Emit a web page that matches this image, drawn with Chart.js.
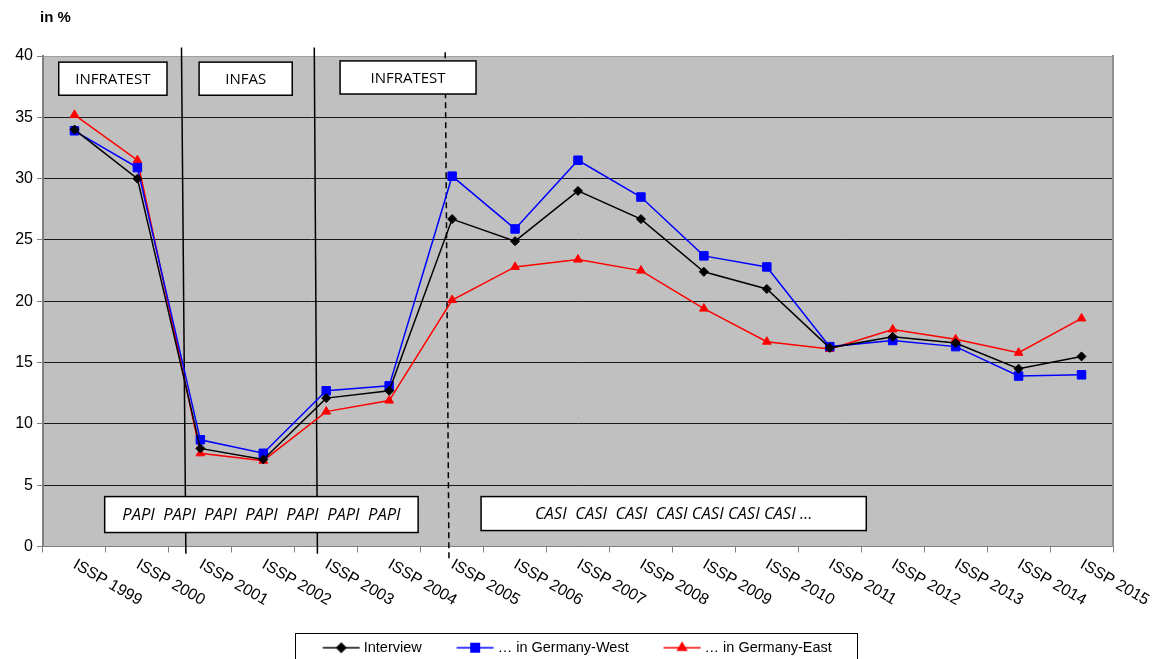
<!DOCTYPE html>
<html>
<head>
<meta charset="utf-8">
<script src="https://cdn.jsdelivr.net/npm/chart.js@4.4.1/dist/chart.umd.min.js"></script>
<style>
  html, body { margin: 0; padding: 0; background: #fff; }
  #wrap { width: 1165px; height: 659px; }
</style>
</head>
<body>
<div id="wrap"><canvas id="chart-line"></canvas></div>
<script>
var years = ["ISSP 1999", "ISSP 2000", "ISSP 2001", "ISSP 2002", "ISSP 2003", "ISSP 2004",
             "ISSP 2005", "ISSP 2006", "ISSP 2007", "ISSP 2008", "ISSP 2009", "ISSP 2010",
             "ISSP 2011", "ISSP 2012", "ISSP 2013", "ISSP 2014", "ISSP 2015"];
var interview   = [34.0, 30.0, 8.0, 7.1, 12.1, 12.7, 26.7, 24.9, 29.0, 26.7, 22.4, 21.0, 16.2, 17.1, 16.6, 14.5, 15.5];
var germanyWest = [33.9, 30.9, 8.7, 7.6, 12.7, 13.1, 30.2, 25.9, 31.5, 28.5, 23.7, 22.8, 16.3, 16.8, 16.3, 13.9, 14.0];
var germanyEast = [35.2, 31.5, 7.6, 7.0, 11.0, 11.9, 20.1, 22.8, 23.4, 22.5, 19.4, 16.7, 16.1, 17.7, 16.9, 15.8, 18.6];
var seriesNames = ["Interview", "\u2026 in Germany-West", "\u2026 in Germany-East"];
var institutes = ["INFRATEST", "INFAS", "INFRATEST"];
var modes = ["PAPI  PAPI  PAPI  PAPI  PAPI  PAPI  PAPI", "CASI  CASI  CASI  CASI CASI CASI CASI \u2026"];

var sans = "'Liberation Sans', Arial, sans-serif";
var labelFont = "'Open Sans', 'Noto Sans', sans-serif";
var trail = "    ";

// legend icon: short line with the marker in the middle
function legendIcon(color, style, r) {
    var c = document.createElement('canvas');
    c.width = 56; c.height = 16;
    var g = c.getContext('2d');
    g.strokeStyle = color; g.fillStyle = color; g.lineWidth = 1.5;
    g.beginPath(); g.moveTo(18.5, 8); g.lineTo(55.5, 8); g.stroke();
    Chart.helpers.drawPoint(g, { pointStyle: style, radius: r, borderWidth: 1 }, 37, 8);
    return c;
}
var icons = [legendIcon('#000', 'rectRot', 4.5), legendIcon('#0000ff', 'rect', 6), legendIcon('#ff0000', 'triangle', 5)];

function box(ctx, x0, y0, x1, y1, text, italic) {
    ctx.fillStyle = '#fff';
    ctx.fillRect(x0, y0, x1 - x0, y1 - y0);
    ctx.strokeStyle = '#000';
    ctx.lineWidth = 1.5;
    ctx.strokeRect(x0, y0, x1 - x0, y1 - y0);
    ctx.fillStyle = '#000';
    ctx.font = italic ? 'italic 16.5px ' + labelFont : '15px ' + labelFont;
    ctx.textAlign = 'center';
    ctx.textBaseline = 'middle';
    ctx.fillText(text, (x0 + x1) / 2, (y0 + y1) / 2 + 1);
}

var decor = {
    id: 'decor',
    beforeDraw: function(chart) {
        var a = chart.chartArea, ctx = chart.ctx;
        ctx.save();
        ctx.fillStyle = '#c0c0c0';
        ctx.fillRect(a.left, a.top, a.right - a.left, a.bottom - a.top);
        ctx.restore();
    },
    beforeDatasetsDraw: function(chart) {
        var ctx = chart.ctx, x = chart.scales.x, y = chart.scales.y;
        var px = function(v) { return x.getPixelForValue(v); };
        var py = function(v) { return y.getPixelForValue(v); };
        ctx.save();
        // field institute change lines
        ctx.strokeStyle = '#000';
        ctx.lineWidth = 1.5;
        [[1.70, 1.77], [3.81, 3.86]].forEach(function(l) {
            ctx.beginPath();
            ctx.moveTo(px(l[0]), py(40.7));
            ctx.lineTo(px(l[1]), py(-0.6));
            ctx.stroke();
        });
        ctx.setLineDash([6, 4]);
        ctx.beginPath();
        ctx.moveTo(px(5.89), py(40.3));
        ctx.lineTo(px(5.95), py(-1.0));
        ctx.stroke();
        ctx.setLineDash([]);

        box(ctx, px(-0.25), py(39.5), px(1.47), py(36.8), institutes[0], false);
        box(ctx, px(1.98), py(39.5), px(3.46), py(36.8), institutes[1], false);
        box(ctx, px(4.22), py(39.6), px(6.38), py(36.9), institutes[2], false);
        box(ctx, px(0.48), py(4.07), px(5.46), py(1.14), modes[0], true);
        box(ctx, px(6.46), py(4.07), px(12.58), py(1.3), modes[1], true);
        ctx.restore();
    },
    afterDraw: function(chart) {
        var ctx = chart.ctx, x = chart.scales.x, a = chart.chartArea;
        ctx.save();
        // rotated category labels, starting at the category position
        ctx.fillStyle = '#000';
        ctx.font = '16px ' + sans;
        ctx.textAlign = 'left';
        ctx.textBaseline = 'top';
        years.forEach(function(lbl, i) {
            ctx.save();
            ctx.translate(x.getPixelForValue(i) + 4, x.top + 10);
            ctx.rotate(30 * Math.PI / 180);
            ctx.fillText(lbl, 0, 0);
            ctx.restore();
        });
        // axis unit
        ctx.font = 'bold 15px ' + sans;
        ctx.textBaseline = 'middle';
        ctx.fillText('in %', a.left - 3, 18);
        // legend frame
        var hb = chart.legend.legendHitBoxes;
        if (hb && hb.length) {
            var last = hb[hb.length - 1];
            ctx.font = '14.5px ' + sans;
            var tw = ctx.measureText(trail).width;
            var l = hb[0].left + 15 - 28, r = last.left + last.width - tw + 25;
            var t = hb[0].top + hb[0].height / 2 - 15;
            ctx.strokeStyle = '#000';
            ctx.lineWidth = 1;
            ctx.strokeRect(Math.round(l) + 0.5, Math.round(t) + 0.5, Math.round(r - l), 40);
        }
        ctx.restore();
    }
};

var ctx = document.getElementById('chart-line');
var chart = new Chart(ctx, {
    type: 'line',
    data: {
        labels: years,
        datasets: [{
            label: seriesNames[0],
            data: interview,
            borderColor: '#000', backgroundColor: '#000',
            borderWidth: 1.5, pointStyle: 'rectRot', pointRadius: 4.5, pointBorderWidth: 1
        }, {
            label: seriesNames[1],
            data: germanyWest,
            borderColor: '#0000ff', backgroundColor: '#0000ff',
            borderWidth: 1.5, pointStyle: 'rect', pointRadius: 6, pointBorderWidth: 1
        }, {
            label: seriesNames[2],
            data: germanyEast,
            borderColor: '#ff0000', backgroundColor: '#ff0000',
            borderWidth: 1.5, pointStyle: 'triangle', pointRadius: 5, pointBorderWidth: 1
        }]
    },
    options: {
        responsive: true,
        maintainAspectRatio: false,
        animation: false,
        layout: { padding: { top: 56, left: 0, right: 0, bottom: -6 } },
        scales: {
            x: {
                offset: true,
                grid: { offset: true, drawOnChartArea: false, tickLength: 6, color: '#808080' },
                border: { color: '#808080', width: 1 },
                ticks: { display: false },
                afterFit: function(s) { s.height = 90; }
            },
            y: {
                min: 0, max: 40,
                ticks: { stepSize: 5, color: '#000', padding: 4, font: { family: sans, size: 16 } },
                grid: {
                    color: function(c) { return c.tick && c.tick.value === 40 ? '#a0a0a0' : '#1a1a1a'; },
                    tickColor: '#808080', tickLength: 6
                },
                border: { color: '#808080', width: 2 },
                afterFit: function(s) { s.width = 43; }
            },
            y2: {
                position: 'right',
                grid: { display: false },
                ticks: { display: false },
                border: { color: '#909090', width: 2 },
                afterFit: function(s) { s.width = 52; }
            }
        },
        plugins: {
            tooltip: { enabled: false },
            legend: {
                position: 'bottom',
                fullSize: false,
                labels: {
                    usePointStyle: true,
                    pointStyleWidth: 48.5,
                    boxHeight: 14,
                    padding: 4,
                    color: '#000',
                    font: { family: sans, size: 14.5 },
                    generateLabels: function(chart) {
                        var items = Chart.defaults.plugins.legend.labels.generateLabels(chart);
                        items.forEach(function(it, i) { it.pointStyle = icons[i]; it.text = it.text + trail; });
                        return items;
                    }
                }
            }
        }
    },
    plugins: [decor]
});
</script>
</body>
</html>
